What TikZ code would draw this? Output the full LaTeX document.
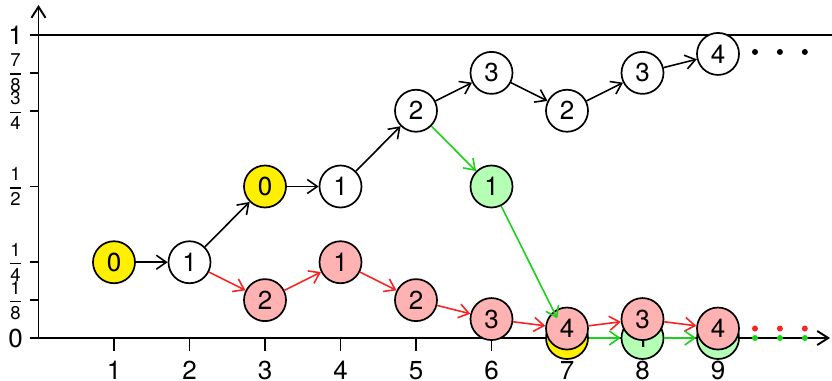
\documentclass[tikz,border=0pt]{standalone}
\usepackage{amsmath}
\usepackage{fontspec}
\setmainfont{TeX Gyre Heros}
\usetikzlibrary{arrows.meta}
\definecolor{pinkf}{RGB}{255,178,178}
\definecolor{greenf}{RGB}{180,255,180}
\definecolor{yell}{RGB}{255,240,0}
\definecolor{redl}{RGB}{250,35,35}
\definecolor{greenl}{RGB}{25,210,25}
\newcommand\myfr[2]{$\genfrac{}{}{1.3pt}{0}{\text{#1}}{\text{#2}}$}
\tikzset{
  st/.style={circle,draw=black,line width=1.7pt,minimum size=42pt,inner sep=0pt,font=\fontsize{26}{26}\selectfont},
  wn/.style={st,fill=white},
  yn/.style={st,fill=yell},
  rn/.style={st,fill=pinkf},
  gn/.style={st,fill=greenf},
  arr/.style={line width=1.6pt,-{Straight Barb[length=10pt,width=14pt]}},
  ba/.style={arr,black},
  ra/.style={arr,redl},
  ga/.style={arr,greenl},
  ax/.style={line width=1.9pt},
  tl/.style={font=\fontsize{26}{26}\selectfont,inner sep=0pt},
  fl/.style={font=\fontsize{18.5}{18.5}\selectfont,inner sep=0pt},
  dotn/.style={circle,inner sep=0pt,minimum size=6pt},
}
\begin{document}
\begin{tikzpicture}[x=75.5pt,y=303pt]
\useasboundingbox (-38.5pt,-42pt) rectangle (793.5pt,338pt);
% axes
\coordinate (o) at (0,0);
\coordinate (ytop) at (0pt,333pt);
\coordinate (xl) at (-8pt,0pt);
\coordinate (xr) at (791.5pt,0pt);
\coordinate (onel) at (-8pt,303pt);
\coordinate (oner) at (793.5pt,303pt);
\draw[ax] (onel) -- (oner);
\draw[ax,-{Straight Barb[length=11pt,width=14pt]}] (o) -- (ytop);
\draw[ax,-{Straight Barb[length=11pt,width=14pt]}] (xl) -- (xr);
% x ticks
\foreach \i in {1,...,9}{
  \draw[ax] (\i,0) -- ++(0pt,-13pt);
  \node[tl,anchor=base] (xl\i) at ([yshift=-41pt]\i,0) {\i};
}
% y ticks
\foreach \v in {0.125,0.25,0.5,0.75,0.875}{
  \draw[ax] (0,\v) -- ++(-8pt,0pt);
}
\node[tl] (y0) at ([xshift=-23pt]0,0) {0};
\node[tl] (y1) at ([xshift=-23pt]0,1) {1};
\node[fl] (f18) at ([xshift=-23pt]0,0.125) {\myfr{1}{8}};
\node[fl] (f14) at ([xshift=-23pt]0,0.25) {\myfr{1}{4}};
\node[fl] (f12) at ([xshift=-23pt]0,0.5) {\myfr{1}{2}};
\node[fl] (f34) at ([xshift=-23pt]0,0.75) {\myfr{3}{4}};
\node[fl] (f78) at ([xshift=-23pt]0,0.875) {\myfr{7}{8}};
% bottom nodes
\node[yn] (g7) at (7,0) {0};
\node[gn] (g8) at (8,0) {1};
\node[gn] (g9) at (9,0) {1};
% upper nodes
\node[yn] (a0) at (1,0.25) {0};
\node[wn] (a1) at (2,0.25) {1};
\node[yn] (a2) at (3,0.5) {0};
\node[wn] (a3) at (4,0.5) {1};
\node[wn] (a4) at (5,0.75) {2};
\node[wn] (a5) at (6,0.875) {3};
\node[wn] (a6) at (7,0.75) {2};
\node[wn] (a7) at (8,0.875) {3};
\node[wn] (a8) at (9,0.9375) {4};
\node[gn] (g6) at (6,0.5) {1};
% red nodes
\node[rn] (r3) at (3,0.125) {2};
\node[rn] (r4) at (4,0.25) {1};
\node[rn] (r5) at (5,0.125) {2};
\node[rn] (r6) at (6,0.0625) {3};
\node[rn] (r7) at (7,0.03125) {4};
\node[rn] (r8) at (8,0.0625) {3};
\node[rn] (r9) at (9,0.03125) {4};
% dots
\foreach \k/\xx in {1/9.49,2/9.82,3/10.15}{
  \node[dotn,fill=black] (bd\k) at (\xx,0.944) {};
  \node[dotn,fill=redl] (rd\k) at (\xx,0.03125) {};
  \node[dotn,fill=greenl] (gd\k) at (\xx,0) {};
}
% arrows
\draw[ba] (a0) -- (a1);
\draw[ba] (a1) -- (a2);
\draw[ba] (a2) -- (a3);
\draw[ba] (a3) -- (a4);
\draw[ba] (a4) -- (a5);
\draw[ba] (a5) -- (a6);
\draw[ba] (a6) -- (a7);
\draw[ba] (a7) -- (a8);
\draw[ra] (a1) -- (r3);
\draw[ra] (r3) -- (r4);
\draw[ra] (r4) -- (r5);
\draw[ra] (r5) -- (r6);
\draw[ra] (r6) -- (r7);
\draw[ra] (r7) -- (r8);
\draw[ra] (r8) -- (r9);
\draw[ga] (a4) -- (g6);
\draw[ga] (g6) -- (g7);
\draw[ga] (g7) -- (g8);
\draw[ga] (g8) -- (g9);
\end{tikzpicture}
\end{document}
